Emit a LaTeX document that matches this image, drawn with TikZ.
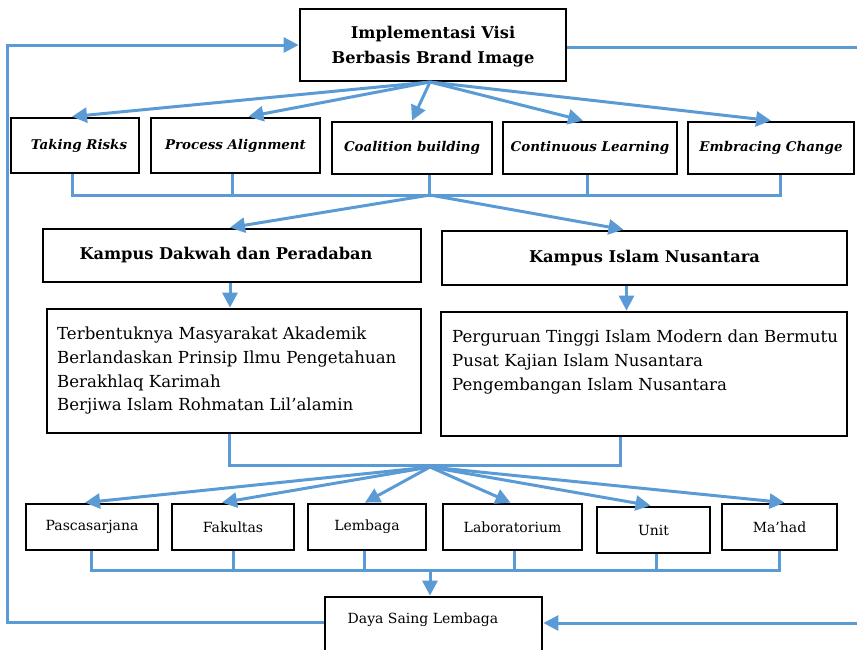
\documentclass[tikz,border=0pt]{standalone}
\usepackage{fontspec}
\setmainfont{DejaVu Serif}
\usetikzlibrary{arrows.meta}
\definecolor{flowblue}{RGB}{91,155,213}
\begin{document}
\begin{tikzpicture}[x=1pt,y=-1pt,
  box/.style={draw=black, line width=2.8pt, rectangle, inner sep=0pt, align=center},
  link/.style={draw=flowblue, line width=3pt},
  arr/.style={link, -{Triangle[length=15pt,width=15pt]}},
  headfont/.style={font=\fontsize{16.2}{25}\selectfont\bfseries},
  stepfont/.style={font=\fontsize{13.4}{15}\selectfont\bfseries\itshape},
  descfont/.style={font=\fontsize{16.6}{23.7}\selectfont},
  unitfont/.style={font=\fontsize{14}{16}\selectfont},
]
\useasboundingbox (0,0) rectangle (857,649);

% top node
\node[box, minimum width=266, minimum height=72] (top) at (433,45) {};
\node[headfont, inner sep=0pt, align=center] (topt) at (433,47)
  {Implementasi Visi\\Berbasis Brand Image};

% five change steps
\node[box, stepfont, minimum width=128, minimum height=55] (tr) at (75,145.5) {\hspace*{8pt}Taking Risks};
\node[box, stepfont, minimum width=169, minimum height=55] (pa) at (235.5,145.5) {Process Alignment};
\node[box, stepfont, minimum width=160, minimum height=52] (cb) at (412,148) {Coalition building};
\node[box, stepfont, minimum width=174, minimum height=52] (cl) at (590,148) {Continuous Learning};
\node[box, stepfont, minimum width=166, minimum height=52] (ec) at (771,148) {Embracing Change};

% two campus visions
\node[box, headfont, minimum width=378, minimum height=53] (kd) at (232,255.5) {Kampus Dakwah dan Peradaban\hspace*{12pt}};
\node[box, headfont, minimum width=405, minimum height=54] (kin) at (644.5,258) {Kampus Islam Nusantara};

\node[box, minimum width=374, minimum height=124] (kdd) at (234,371) {};
\node[descfont, anchor=north west, align=left, inner sep=0pt] (kddt) at (57,327)
  {Terbentuknya Masyarakat Akademik\\Berlandaskan Prinsip Ilmu Pengetahuan\\Berakhlaq Karimah\\Berjiwa Islam Rohmatan Lil'alamin};
\node[box, minimum width=406, minimum height=124] (kind) at (644,374) {};
\node[descfont, anchor=north west, align=left, inner sep=0pt] (kindt) at (452,330)
  {Perguruan Tinggi Islam Modern dan Bermutu\\Pusat Kajian Islam Nusantara\\Pengembangan Islam Nusantara};

% organisational units
\node[box, unitfont, minimum width=132, minimum height=46] (pas) at (92,527) {Pascasarjana};
\node[box, unitfont, minimum width=122, minimum height=46] (fak) at (233,527) {Fakultas};
\node[box, unitfont, minimum width=118, minimum height=46] (lem) at (367,527) {Lembaga};
\node[box, unitfont, minimum width=139, minimum height=46] (lab) at (512.5,527) {Laboratorium};
\node[box, unitfont, minimum width=113, minimum height=46] (uni) at (653.5,530) {Unit};
\node[box, unitfont, minimum width=115, minimum height=46] (mah) at (779.5,527) {Ma'had};

% outcome
\node[box, minimum width=217, minimum height=68] (ds) at (433.5,631) {};
\node[unitfont, inner sep=0pt] (dst) at (423,620) {Daya Saing Lembaga};

% junction points
\coordinate (f1) at (430,82);
\coordinate (b1) at (430,195);
\coordinate (b2) at (430,465);
\coordinate (b3) at (430,570);
\coordinate (lx) at (7,45);
\coordinate (rx) at (859,47);

% fan-out from the top node
\draw[arr] (f1) -- ([xshift=-3pt]tr.north);
\draw[arr] (f1) -- ([xshift=13pt]pa.north);
\draw[arr] (f1) -- (cb.north);
\draw[arr] (f1) -- ([xshift=-7pt]cl.north);
\draw[arr] (f1) -- (ec.north);

% collect the steps
\draw[link] ([xshift=-3pt]tr.south) -- ([xshift=-3pt]tr.south |- b1)
  -- ([xshift=9pt]ec.south |- b1) -- ([xshift=9pt]ec.south);
\draw[link] ([xshift=-3pt]pa.south) -- ([xshift=-3pt]pa.south |- b1);
\draw[link] ([xshift=17pt]cb.south) -- ([xshift=17pt]cb.south |- b1);
\draw[link] ([xshift=-3pt]cl.south) -- ([xshift=-3pt]cl.south |- b1);

% into the two visions
\draw[arr] (b1) -- ([xshift=-2pt]kd.north);
\draw[arr] (b1) -- ([xshift=-21pt]kin.north);
\draw[arr] ([xshift=-2pt]kd.south) -- ([xshift=-2pt]kd.south |- kdd.north);
\draw[arr] ([xshift=-18pt]kin.south) -- ([xshift=-18pt]kin.south |- kind.north);

% join the two descriptions
\draw[link] ([xshift=-5pt]kdd.south) -- ([xshift=-5pt]kdd.south |- b2)
  -- ([xshift=-24pt]kind.south |- b2) -- ([xshift=-24pt]kind.south);

% fan-out to the units
\coordinate (f3) at (430,467);
\draw[arr] (f3) -- ([xshift=-7pt]pas.north);
\draw[arr] (f3) -- ([xshift=-11pt]fak.north);
\draw[arr] (f3) -- ([xshift=-2pt]lem.north);
\draw[arr] (f3) -- ([xshift=-2pt]lab.north);
\draw[arr] (f3) -- ([xshift=-3pt]uni.north);
\draw[arr] (f3) -- ([xshift=5pt]mah.north);

% collect the units
\draw[link] ([xshift=-1pt]pas.south) -- ([xshift=-1pt]pas.south |- b3)
  -- (mah.south |- b3) -- (mah.south);
\draw[link] (fak.south) -- (fak.south |- b3);
\draw[link] ([xshift=-3pt]lem.south) -- ([xshift=-3pt]lem.south |- b3);
\draw[link] ([xshift=2pt]lab.south) -- ([xshift=2pt]lab.south |- b3);
\draw[link] ([xshift=3pt]uni.south) -- ([xshift=3pt]uni.south |- b3);
\draw[arr] (b3) -- (b3 |- ds.north);

% feedback loops
\draw[arr] (ds.west |- 0,622) -- (lx |- 0,622) -- (lx) -- (top.west |- lx);
\draw[arr] (top.east |- rx) -- (rx) -- (rx |- 0,623) -- (ds.east |- 0,623);
\end{tikzpicture}
\end{document}
